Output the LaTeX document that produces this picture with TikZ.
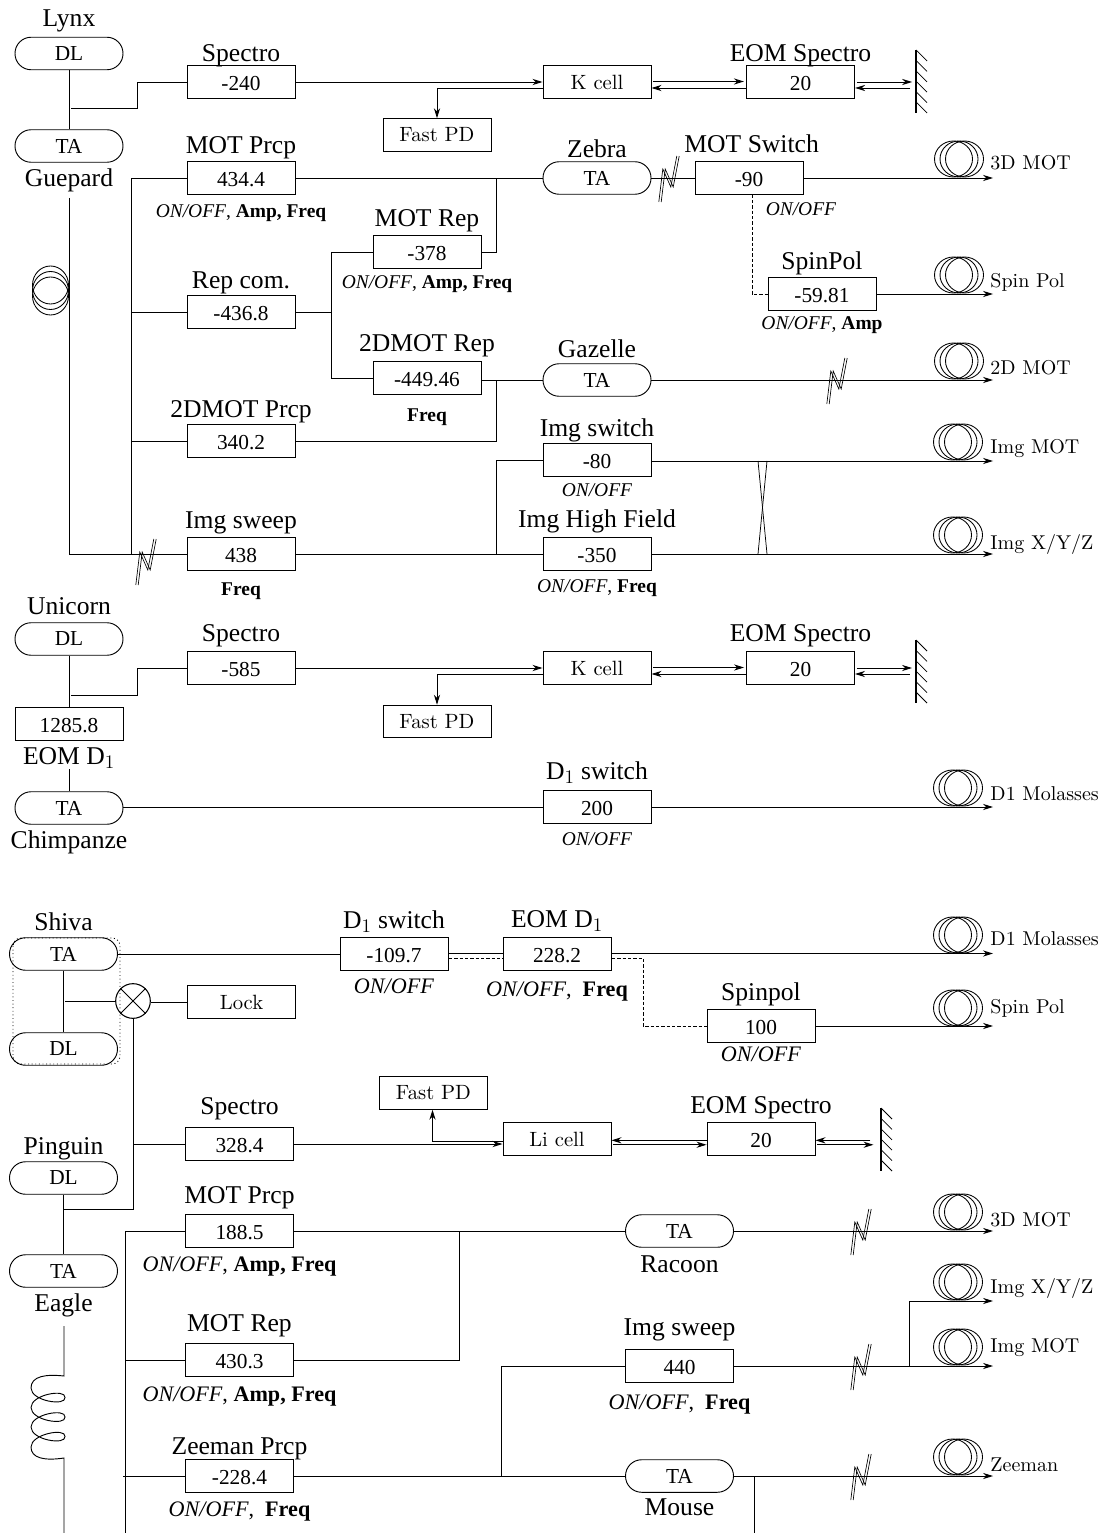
\documentclass[tikz,border=0pt]{standalone}
\usepackage{fontspec}
\usepackage{tikz}
\usetikzlibrary{arrows.meta}
\newfontfamily\palfont{Liberation Serif}
\newfontfamily\cmfont{lmroman10-regular.otf}
\tikzset{
rfbox/.style={rectangle, draw=black, line width=.7pt, inner sep=0pt, minimum width=81pt, minimum height=24.4pt, text height=12.3pt, text depth=0pt, font=\fontsize{16}{18}\palfont\selectfont},
cmbox/.style={rfbox, text height=, text depth=, font=\fontsize{15.5}{18}\cmfont\selectfont},
ampbox/.style={rfbox, rounded corners=12.1pt, text height=, text depth=},
uptitle/.style 2 args={label={[titletext,yshift=(#1-2)*.75pt]above:#2}},
downtitle/.style 2 args={label={[titletext,text depth=,text height=0pt,yshift=-#1*.75pt]below:#2}},
note/.style 2 args={label={[notetext,yshift=-#1*.75pt]below:#2}},
bignote/.style 2 args={label={[notetext,font=\fontsize{16.6}{18}\palfont\selectfont,yshift=-#1*.75pt]below:#2}},
titletext/.style={inner sep=0pt, text depth=0pt, font=\fontsize{19.2}{22}\palfont\selectfont},
notetext/.style={inner sep=0pt, text height=0pt, font=\fontsize{14.6}{17}\palfont\selectfont},
endlabel/.style={anchor=base west, inner sep=0pt, font=\fontsize{15}{18}\cmfont\selectfont},
pics/fiber/.style={code={\foreach \dx in {-5.5,0,5.5} {\draw[line width=.65pt] (\dx,0) ellipse [x radius=14.25pt, y radius=13.5pt];}}},
pics/kink/.style={code={\foreach \dx in {-1.2,1.2} {\draw[line width=.5pt] (9+\dx,-22)--(3+\dx,9)--(-5+\dx,-9)--(-9+\dx,24);}}},
pics/mirror/.style={code={\draw[line width=.8pt] (0,0)--(0,63); \foreach \hy in {0,10.4,20.8,31.2,41.6,52} {\draw[line width=.55pt] (0,\hy)--(11,\hy+11);}}},
}
\begin{document}
\begin{tikzpicture}[x=.75pt,y=-.75pt,line width=.7pt,>={Stealth[length=7.5pt,width=4.6pt,inset=2.4pt]}]
    \useasboundingbox (0,0) rectangle (1104,1533);

    \node[ampbox] at (69,53.5) (dl1) [uptitle={12}{Lynx}] {DL};
    \node[ampbox] at (69,146) (ta1) [downtitle={23}{Guepard}] {TA};
    \node[rfbox] at (241,82) (spectro1) [uptitle={5}{Spectro}] {-240};
    \node[cmbox] at (597,82) (kcell1) {K cell};
    \node[rfbox,line width=.9pt] at (800.5,82) (eom1) [uptitle={5}{EOM Spectro}] {20};
    \node[cmbox] at (437,135) (fastpd1) {Fast PD};
    \node[rfbox] at (241,178) (motprcp1) [uptitle={9}{MOT Prcp},note={22}{\textit{ON/OFF}, \textbf{Amp, Freq}}] {434.4};
    \node[ampbox] at (597,178) (zebra) [uptitle={5}{Zebra}] {TA};
    \node[rfbox] at (749,178) (motswitch) [label={[titletext,xshift=2pt,yshift=6pt]above:MOT Switch}] {-90};
    \node[notetext,anchor=base] at (801,216) (motswitchnote) {\textit{ON/OFF}};
    \node[rfbox] at (427,252) (motrep1) [uptitle={10}{MOT Rep},note={19}{\textit{ON/OFF}, \textbf{Amp, Freq}}] {-378};
    \node[rfbox] at (241,312) (repcom) [uptitle={8}{Rep com.}] {-436.8};
    \node[rfbox] at (822,294) (spinpol1) [uptitle={9}{SpinPol},note={18}{\textit{ON/OFF}, \textbf{Amp}}] {-59.81};
    \node[rfbox] at (427,378) (rep2d) [uptitle={11}{2DMOT Rep},note={26}{\textbf{Freq}}] {-449.46};
    \node[ampbox] at (597,380) (gazelle) [uptitle={7}{Gazelle}] {TA};
    \node[rfbox] at (241,441) (prcp2d) [uptitle={8}{2DMOT Prcp}] {340.2};
    \node[rfbox] at (597,460) (imgswitch) [uptitle={8}{Img switch},note={19}{\textit{ON/OFF}}] {-80};
    \node[rfbox] at (241,554) (imgsweep1) [uptitle={10}{Img sweep},note={24}{\textbf{Freq}}] {438};
    \node[rfbox] at (597,554) (imghigh) [uptitle={11}{Img High Field},note={21}{\textit{ON/OFF}, \textbf{Freq}}] {-350};

    \coordinate (tap1) at (71,108);
    \coordinate (bend1) at (137,108);
    \coordinate (fiber1top) at (69,198);
    \coordinate (fiber1bot) at (69,554);
    \coordinate (bus1top) at (131,178);
    \coordinate (bus1bot) at (131,554);
    \coordinate (bus1rep) at (131,312);
    \coordinate (bus1prcp) at (131,441);
    \coordinate (rep1mid) at (331,312);
    \coordinate (rep1up) at (331,252);
    \coordinate (rep1down) at (331,378);
    \coordinate (join1) at (496,178);
    \coordinate (join2) at (496,380);
    \coordinate (imgsplit) at (496,554);
    \coordinate (imgbend) at (496,460);
    \coordinate (mot3d1) at (993,178);
    \coordinate (spin1) at (993,294);
    \coordinate (mot2d) at (993,380);
    \coordinate (imgmot1) at (993,461);
    \coordinate (imgxyz1) at (993,554);
    \coordinate (dashturn1) at (752,294);
    \coordinate (crossa) at (758,461);
    \coordinate (crossb) at (767,461);
    \coordinate (crossc) at (758,554);
    \coordinate (crossd) at (767,554);

    \draw (dl1) -- (ta1);
    \draw (tap1) -- (bend1) |- (spectro1);
    \draw[->] (spectro1) -- (kcell1);
    \draw[->] ([shift={(2,-.5)}]kcell1.east) -- ([shift={(-2,-.5)}]eom1.west);
    \draw[->] ([yshift=-4.5pt]eom1.west) -- ([yshift=-4.5pt]kcell1.east);
    \draw[->] ([shift={(2,0)}]eom1.east) -- ++(55,0);
    \draw[->] ([shift={(55,-4.5pt)}]eom1.east) -- ([yshift=-4.5pt]eom1.east);
    \pic at (916,50) {mirror};
    \draw[->] ([yshift=-4.5pt]kcell1.west) -| (fastpd1.north);
    \draw (fiber1top) -- (fiber1bot) -- (imgsweep1);
    \pic[rotate=90] at (50.5,290.5) {fiber};
    \draw (motprcp1) -- (bus1top) -- (bus1bot);
    \draw (bus1rep) -- (repcom);
    \draw (bus1prcp) -- (prcp2d);
    \pic at (146,561) {kink};
    \draw (motprcp1) -- (zebra);
    \draw (zebra) -- (motswitch);
    \pic at (669,178) {kink};
    \draw[->] (motswitch) -- (mot3d1);
    \pic at (959,159) {fiber};
    \draw[dash pattern=on 2.5pt off 1.5pt] (motswitch.south -| dashturn1) -- (dashturn1) -- (spinpol1);
    \draw[->] (spinpol1) -- (spin1);
    \pic at (959,275) {fiber};
    \draw (repcom) -- (rep1mid);
    \draw (rep1up) -- (rep1down);
    \draw (rep1up) -- (motrep1);
    \draw (rep1down) -- (rep2d);
    \draw (motrep1) -| (join1);
    \draw (rep2d.east |- gazelle) -- (gazelle);
    \draw (prcp2d) -| (join2);
    \draw[->] (gazelle) -- (mot2d);
    \pic at (837,380) {kink};
    \pic at (959,361) {fiber};
    \draw (imgsweep1) -- (imghigh);
    \draw (imgsplit) -- (imgbend) -- (imgswitch);
    \draw[->] (imgswitch.east |- imgmot1) -- (imgmot1);
    \draw[->] (imghigh) -- (imgxyz1);
    \draw[line width=.55pt] (crossa) -- (crossd);
    \draw[line width=.55pt] (crossb) -- (crossc);
    \pic at (958,442) {fiber};
    \pic at (958,535) {fiber};

    \node[endlabel] at (990,170) (label3d1) {3D MOT};
    \node[endlabel] at (990,288) (labelspin1) {Spin Pol};
    \node[endlabel] at (990,374) (label2d) {2D MOT};
    \node[endlabel] at (990,453) (labelimg1) {Img MOT};
    \node[endlabel] at (990,549) (labelxyz1) {Img X/Y/Z};

    \node[ampbox] at (69,639) (dl2) [uptitle={9}{Unicorn}] {DL};
    \node[rfbox] at (69,724) (eomd1) [downtitle={23}{EOM D$_1$}] {1285.8};
    \node[ampbox] at (69,808) (ta2) [downtitle={23}{Chimpanze}] {TA};
    \node[rfbox] at (241,668) (spectro2) [uptitle={11}{Spectro}] {-585};
    \node[cmbox] at (597,668) (kcell2) {K cell};
    \node[rfbox] at (800.5,668) (eom2) [uptitle={11}{EOM Spectro}] {20};
    \node[cmbox] at (437,721.5) (fastpd2) {Fast PD};
    \node[rfbox] at (597,807) (d1switch1) [uptitle={12}{D$_1$ switch},note={21}{\textit{ON/OFF}}] {200};

    \coordinate (tap2) at (71,695);
    \coordinate (bend2) at (137,695);
    \coordinate (eomstub) at (69,769);
    \coordinate (d1out1) at (993,807);

    \draw (dl2) -- (eomd1);
    \draw (eomstub) -- (ta2);
    \draw (tap2) -- (bend2) |- (spectro2);
    \draw[->] (spectro2) -- (kcell2);
    \draw[->] ([shift={(2,-.5)}]kcell2.east) -- ([shift={(-2,-.5)}]eom2.west);
    \draw[->] ([yshift=-4.5pt]eom2.west) -- ([yshift=-4.5pt]kcell2.east);
    \draw[->] ([shift={(2,0)}]eom2.east) -- ++(55,0);
    \draw[->] ([shift={(55,-4.5pt)}]eom2.east) -- ([yshift=-4.5pt]eom2.east);
    \pic at (916,640) {mirror};
    \draw[->] ([yshift=-4.5pt]kcell2.west) -| (fastpd2.north);
    \draw (ta2.east |- d1switch1) -- (d1switch1);
    \draw[->] (d1switch1) -- (d1out1);
    \pic at (958,788) {fiber};
    \node[endlabel] at (990,800) (labeld1a) {D1 Molasses};

    \node[ampbox] at (63.5,954) (ta3) [uptitle={8}{Shiva}] {TA};
    \node[ampbox] at (63.5,1049) (dl3) {DL};
    \node[circle,draw=black,line width=.8pt,inner sep=0pt,minimum size=26pt] at (133,1001) (mixer) {};
    \node[cmbox] at (241.5,1002) (lock) {Lock};
    \node[rfbox] at (394,954) (d1switch2) [uptitle={10}{D$_1$ switch},bignote={22}{\textit{ON/OFF}}] {-109.7};
    \node[rfbox] at (557,954) (eomd2) [uptitle={11}{EOM D$_1$},bignote={25}{\textit{ON/OFF},\ \ \textbf{Freq}}] {228.2};
    \node[rfbox] at (761,1026) (spinpol2) [uptitle={10}{Spinpol},bignote={18}{\textit{ON/OFF}}] {100};
    \node[cmbox] at (433.5,1093) (fastpd3) {Fast PD};
    \node[rfbox] at (239.5,1144) (spectro3) [uptitle={14}{Spectro}] {328.4};
    \node[cmbox] at (557,1139) (licell) {Li cell};
    \node[rfbox] at (761,1139) (eom3) [uptitle={10}{EOM Spectro}] {20};
    \node[ampbox] at (63.5,1178) (dl4) [uptitle={8}{Pinguin}] {DL};
    \node[ampbox] at (63.5,1271) (ta4) [downtitle={23}{Eagle}] {TA};
    \node[rfbox] at (239.5,1231) (motprcp2) [uptitle={12}{MOT Prcp},bignote={23}{\textit{ON/OFF}, \textbf{Amp, Freq}}] {188.5};
    \node[ampbox] at (679.5,1231) (racoon) [downtitle={24}{Racoon}] {TA};
    \node[rfbox] at (239.5,1360) (motrep2) [uptitle={13}{MOT Rep},bignote={24}{\textit{ON/OFF}, \textbf{Amp, Freq}}] {430.3};
    \node[rfbox] at (679.5,1366) (imgsweep2) [uptitle={15}{Img sweep},bignote={26}{\textit{ON/OFF},\ \ \textbf{Freq}}] {440};
    \node[rfbox] at (239.5,1476) (zeeman) [uptitle={6}{Zeeman Prcp},bignote={23}{\textit{ON/OFF},\ \ \textbf{Freq}}] {-228.4};
    \node[ampbox] at (679.5,1476) (mouse) [downtitle={22}{Mouse}] {TA};

    \coordinate (d1out2) at (993,953.5);
    \coordinate (spin2) at (993,1026);
    \coordinate (mixtap) at (65,1001);
    \coordinate (spectro3tap) at (133,1144);
    \coordinate (mixbot) at (133,1209);
    \coordinate (dl4tap) at (64,1209);
    \coordinate (dash1a) at (449,958);
    \coordinate (dash1b) at (503,958);
    \coordinate (dash2a) at (612,958);
    \coordinate (dash2b) at (643,958);
    \coordinate (dash2c) at (643,1026);
    \coordinate (fastbend) at (432.5,1141);
    \coordinate (bus3top) at (125.5,1231);
    \coordinate (bus3bot) at (125.5,1533);
    \coordinate (bus3rep) at (125.5,1360);
    \coordinate (bus3zee) at (123,1476);
    \coordinate (join3) at (459,1231);
    \coordinate (join4) at (459,1360);
    \coordinate (sweepbend) at (501,1366);
    \coordinate (sweeptap) at (501,1476);
    \coordinate (mot3d2) at (993,1231);
    \coordinate (imgmot2) at (993,1366);
    \coordinate (xyzbend) at (909,1301);
    \coordinate (xyztap) at (909,1366);
    \coordinate (imgxyz2) at (993,1301);
    \coordinate (zeemanout) at (993,1476);
    \coordinate (mousetap) at (754,1476);
    \coordinate (mousebot) at (754,1533);
    \coordinate (eagletop) at (64,1326);
    \coordinate (coilin) at (64,1376);
    \coordinate (coilout) at (64,1458);
    \coordinate (eaglebot) at (64,1533);

    \draw[dotted,rounded corners=6pt] (13,938) rectangle (120,1064);
    \draw (ta3) -- (dl3);
    \draw (mixtap) -- (mixer);
    \draw (mixer.north west) -- (mixer.south east);
    \draw (mixer.north east) -- (mixer.south west);
    \draw (mixer.east |- lock) -- (lock);
    \draw (mixer) -- (mixbot) -- (dl4tap);
    \draw (spectro3tap) -- (spectro3);
    \draw (dl4) -- (ta4);
    \draw (ta3) -- (d1switch2);
    \draw (d1switch2.east |- d1out2) -- (eomd2.west |- d1out2);
    \draw[dash pattern=on 2.5pt off 1.5pt] (dash1a) -- (dash1b);
    \draw[->] (eomd2.east |- d1out2) -- (d1out2);
    \draw[dash pattern=on 2.5pt off 1.5pt] (dash2a) -- (dash2b) -- (dash2c) -- (spinpol2);
    \draw[->] (spinpol2) -- (spin2);
    \pic at (958,935) {fiber};
    \pic at (958,1008) {fiber};
    \draw[->] (spectro3.east) -- (licell.west |- spectro3);
    \draw[->] (licell.west |- fastbend) -- (fastbend) -- (fastpd3.south -| fastbend);
    \draw[->] ([yshift=-1pt]eom3.west) -- ([yshift=-1pt]licell.east);
    \draw[->] ([shift={(2,-4.3pt)}]licell.east) -- ([yshift=-4.3pt]eom3.west);
    \draw[->] ([shift={(55,-1pt)}]eom3.east) -- ([yshift=-1pt]eom3.east);
    \draw[->] ([shift={(2,-4.3pt)}]eom3.east) -- ++(56,0);
    \pic at (881,1108) {mirror};
    \draw (motprcp2) -- (bus3top) -- (bus3bot);
    \draw (bus3rep) -- (motrep2);
    \draw (bus3zee) -- (zeeman);
    \draw (motprcp2) -- (racoon);
    \draw (motrep2) -- (join4) -- (join3);
    \draw[->] (racoon) -- (mot3d2);
    \pic at (861,1231) {kink};
    \pic at (958,1212) {fiber};
    \draw (zeeman) -- (mouse);
    \draw (sweeptap) -- (sweepbend) -- (imgsweep2);
    \draw[->] (imgsweep2) -- (imgmot2);
    \pic at (861,1366) {kink};
    \pic at (958,1347) {fiber};
    \draw[->] (xyztap) -- (xyzbend) -- (imgxyz2);
    \pic at (958,1282) {fiber};
    \draw[->] (mouse) -- (zeemanout);
    \pic at (861,1476) {kink};
    \pic at (958,1457) {fiber};
    \draw (mousetap) -- (mousebot);
    \draw (eagletop) -- (coilin) .. controls (46,1374) and (31,1376) .. (31,1388)
        .. controls (31,1401) and (66,1406.5) .. (65,1397.5)
        .. controls (66,1388.5) and (31,1394.5) .. (31,1407.5)
        .. controls (31,1420.5) and (66,1426) .. (65,1417)
        .. controls (66,1408) and (31,1414) .. (31,1427)
        .. controls (31,1440) and (66,1445.5) .. (65,1436.5)
        .. controls (66,1427.5) and (31,1434) .. (31,1447)
        .. controls (31,1458) and (44,1461) .. (coilout) -- (eaglebot);

    \node[endlabel] at (990,945) (labeld1b) {D1 Molasses};
    \node[endlabel] at (990,1013) (labelspin2) {Spin Pol};
    \node[endlabel] at (990,1226) (label3d2) {3D MOT};
    \node[endlabel] at (990,1293) (labelxyz2) {Img X/Y/Z};
    \node[endlabel] at (990,1352) (labelimg2) {Img MOT};
    \node[endlabel] at (990,1471) (labelzeeman) {Zeeman};
\end{tikzpicture}
\end{document}
